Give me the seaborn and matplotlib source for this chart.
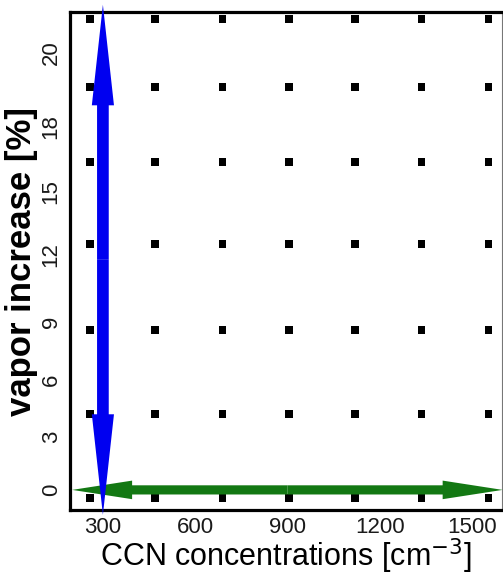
import numpy as np
import pandas as pd
import matplotlib
matplotlib.use("Agg")
import matplotlib.pyplot as plt
from matplotlib.patches import FancyArrow
import seaborn as sns

# ---- data ----
ccn_columns = [258, 470, 690, 905, 1120, 1337, 1555]          # CCN [cm^-3]
vapor_rows = [-0.37, 3.48, 7.32, 11.26, 15.01, 18.44, 21.55]   # axis units
xtick_values = [300, 600, 900, 1200, 1500]
ytick_positions = [0, 2.43, 5.03, 7.69, 10.75, 13.64, 16.61, 20.0]
ytick_labels = ["0", "3", "6", "9", "12", "15", "18", "20"]
blue_arrow_x = 300
blue_arrow_y = (-1.14, 22.2)
green_arrow_y = 0.0
green_arrow_x = (200, 1600)

grid = pd.DataFrame([(x, y) for y in vapor_rows for x in ccn_columns],
                    columns=["ccn", "vapor"])

sns.set_style("white")
plt.rcParams["font.family"] = ["Liberation Sans", "DejaVu Sans"]

fig = plt.figure(figsize=(5.03, 5.79), dpi=100)
ax = fig.add_axes([70/503, 1-510/579, 432/503, 498/579])

sns.scatterplot(data=grid, x="ccn", y="vapor", marker="s", s=28,
                color="black", edgecolor="none", ax=ax, zorder=2)

ax.set_xlim(193, 1598)
ax.set_ylim(-0.92, 21.87)

# green horizontal double arrow
gmid = (green_arrow_x[0] + green_arrow_x[1]) / 2
for end in green_arrow_x:
    ax.add_patch(FancyArrow(gmid, green_arrow_y, end - gmid, 0,
                            width=0.42, head_width=0.85, head_length=195,
                            length_includes_head=True, color="#137813",
                            lw=0, clip_on=False, zorder=3))
# blue vertical double arrow
bmid = (blue_arrow_y[0] + blue_arrow_y[1]) / 2
for end in blue_arrow_y:
    ax.add_patch(FancyArrow(blue_arrow_x, bmid, 0, end - bmid,
                            width=38, head_width=72, head_length=4.6,
                            length_includes_head=True, color="#0000f0",
                            lw=0, clip_on=False, zorder=4))

ax.set_xticks(xtick_values)
ax.set_xticklabels([str(v) for v in xtick_values])
ax.set_yticks(ytick_positions)
ax.set_yticklabels(ytick_labels)
ax.tick_params(axis="both", length=0, labelsize=16, labelcolor="#1a1a1a")
ax.tick_params(axis="x", pad=5)
ax.tick_params(axis="y", pad=6)
for lab in ax.get_yticklabels():
    lab.set_rotation(90)
    lab.set_va("center")
    lab.set_ha("right")

ax.set_xlabel("CCN concentrations [cm$^{-3}$]", fontsize=22, labelpad=-1,
              color="black")
ax.set_ylabel("vapor increase [%]", fontsize=25, fontweight="bold",
              labelpad=2, color="black")

for side in ["left", "top", "bottom"]:
    ax.spines[side].set_linewidth(2.3)
    ax.spines[side].set_color("black")
ax.spines["right"].set_linewidth(0.8)
ax.spines["right"].set_color("#777777")

fig.savefig("out.png", dpi=100)
